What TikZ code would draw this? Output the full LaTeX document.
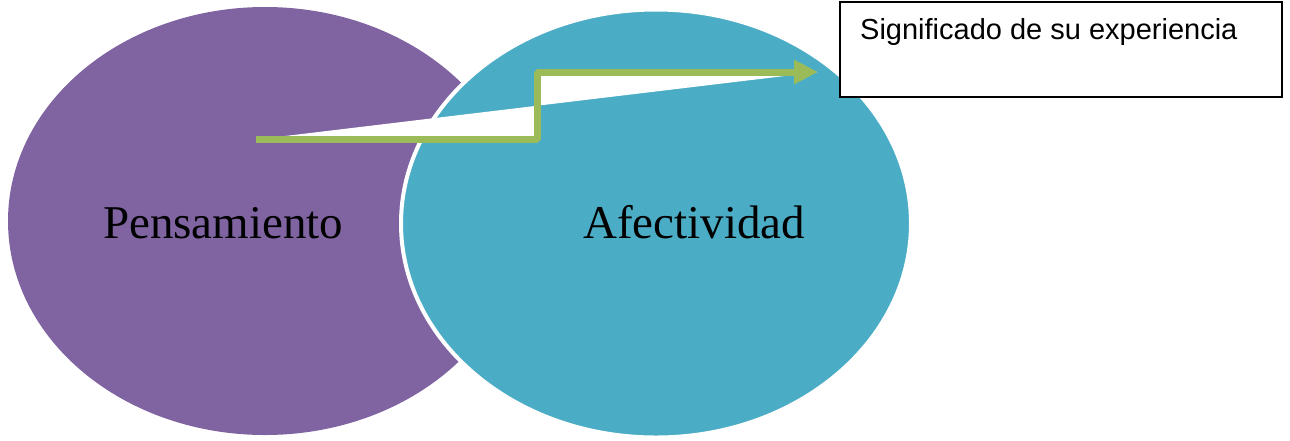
\documentclass[tikz,border=0pt]{standalone}
\usepackage{fontspec}
\setmainfont{Liberation Serif}
\newfontfamily\boxfont{Liberation Sans}
\usetikzlibrary{shapes.geometric,arrows.meta}
\definecolor{purp}{RGB}{128,100,162}
\definecolor{aqua}{RGB}{75,172,198}
\definecolor{olivegreen}{RGB}{155,187,89}
\tikzset{
  blob/.style={ellipse, inner sep=0pt, outer sep=0pt},
  bigtext/.style={anchor=base west, inner sep=0pt, font=\fontsize{47}{50}\selectfont, text=black},
  notebox/.style={draw=black, line width=2pt, fill=white, inner sep=0pt},
  notetext/.style={anchor=base west, inner sep=0pt, font=\boxfont\fontsize{29}{32}\selectfont},
  greenarrow/.style={draw=olivegreen, line width=7pt, line join=bevel, -{Triangle[length=24pt,width=23pt]}}
}
\begin{document}
\begin{tikzpicture}[x=1pt,y=-1pt]
\useasboundingbox (0,0) rectangle (1290,440);
% ellipses
\node[blob, fill=purp, minimum width=514pt, minimum height=428pt] (pens) at (265,221) {};
\node[blob, fill=aqua, draw=white, line width=4pt, minimum width=510pt, minimum height=428pt] (afec) at (656,223.5) {};
% labels
\node[bigtext] (pensT) at (103,238) {Pensamiento};
\node[bigtext] (afecT) at (583,238) {Afectividad};
% box
\node[notebox, minimum width=442pt, minimum height=95pt] (sig) at (1061,49.5) {};
\node[notetext] (sigT) at (860,39) {Significado de su experiencia};
% arrow path
\coordinate (a0) at (256,139.5);
\coordinate (a1) at (537,139.5);
\coordinate (a2) at (537,72);
\coordinate (a3) at (818,72);
\fill[white] (a0) -- (a1) -- (a2) -- (a3) -- cycle;
\draw[greenarrow] (a0) -- (a1) -- (a2) -- (a3);
\end{tikzpicture}
\end{document}
